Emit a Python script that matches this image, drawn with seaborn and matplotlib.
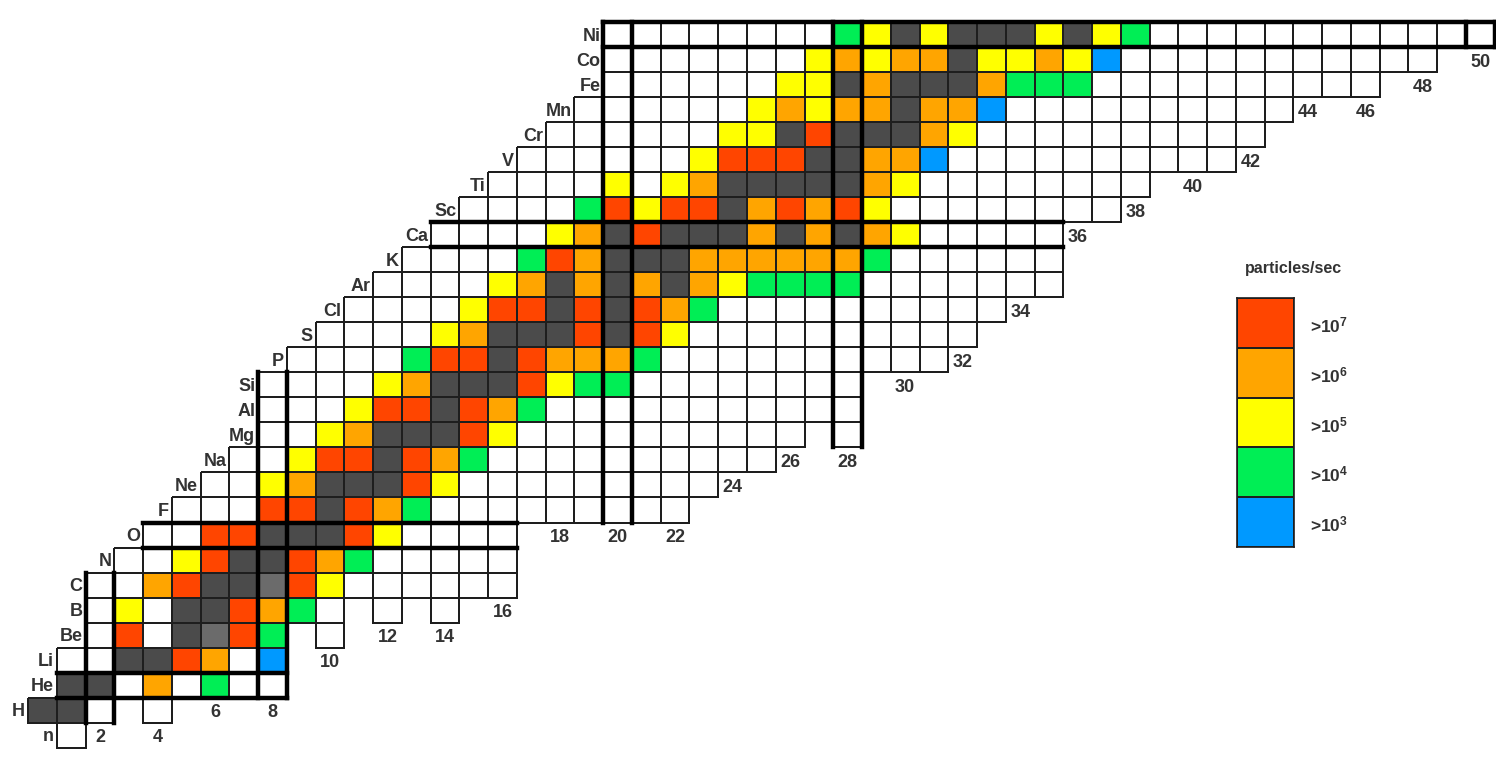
import numpy as np
import matplotlib.pyplot as plt
from matplotlib.colors import ListedColormap, to_rgba
import seaborn as sns

plt.rcParams['font.family'] = ['Liberation Sans', 'DejaVu Sans']
plt.rcParams['mathtext.fontset'] = 'custom'
plt.rcParams['mathtext.rm'] = 'Liberation Sans:bold'
plt.rcParams['mathtext.it'] = 'Liberation Sans:bold'
plt.rcParams['mathtext.default'] = 'rm'

# element symbol for each proton number Z = 0..28
elements = ["n", "H", "He", "Li", "Be", "B", "C", "N", "O", "F", "Ne", "Na",
            "Mg", "Al", "Si", "P", "S", "Cl", "Ar", "K", "Ca", "Sc", "Ti",
            "V", "Cr", "Mn", "Fe", "Co", "Ni"]

# neutron number of the first box in each row
row_first = [1, 0, 1, 1, 2, 2, 2, 3, 4, 5, 6, 7, 8, 8, 8, 9, 10, 11, 12, 13,
             14, 15, 16, 17, 18, 19, 20, 20, 20]

# one letter per box, left to right starting at row_first
# w below 1e3, b >1e3, g >1e4, y >1e5, o >1e6, r >1e7, s stable, l long lived, . no box
row_cells = [
    "w",                                   # n
    "ssw.w",                               # H
    "sswowgww",                            # He
    "wwssrowb",                            # Li
    "wrwslrg.w",                           # Be
    "wywssrogw.w.w",                       # B
    "wworsslrywwwwww",                     # C
    "wwyrssrogwwwww",                      # N
    "wwrrsssrywwww",                       # O
    "wwwrrsrogwwwwwwwww",                  # F
    "wwyosssrywwwwwwwww",                  # Ne
    "wwyrrsrogwwwwwwwwww",                 # Na
    "wwyosssrywwwwwwwwww.w",               # Mg
    "wwwyrrsrogwwwwwwwwwww",               # Al
    "wwwwyosssryggwwwwwwww",               # Si
    "wwwwgrrsrooogwwwwwwwwww",             # P
    "wwwwyosssrsrywwwwwwwwww",             # S
    "wwwwyrrsrsrogwwwwwwwwww",             # Cl
    "wwwwyosososoyggggwwwwwww",            # Ar
    "wwwwgrosssoooooogwwwwww",             # K
    "wwwwyosrsssososoywwwww",              # Ca
    "wwwwgryrrsororywwwwwwww",             # Sc
    "wwwwywyosssssoywwwwwwww",             # Ti
    "wwwwwwyrrrssoobwwwwwwwwww",           # V
    "wwwwwwyysrsssoywwwwwwwwww",           # Cr
    "wwwwwwyoyoosoobwwwwwwwwww",           # Mn
    "wwwwwwyysosssogggwwwwwwwwww",         # Fe
    "wwwwwwwyoyoosyyoybwwwwwwwwwww",       # Co
    "wwwwwwwwgysysssysygwwwwwwwwwwww",     # Ni
]

magic_numbers = [2, 8, 20, 28, 50]

legend_title = "particles/sec"
legend_codes = "roygb"
legend_labels = [">10$^{7}$", ">10$^{6}$", ">10$^{5}$", ">10$^{4}$", ">10$^{3}$"]

codes = "wbgyorsl"
palette = ["#ffffff", "#0099ff", "#00ee55", "#ffff00", "#ffa500", "#ff4500",
           "#4b4b4b", "#6b6b6b"]
cmap = ListedColormap(palette)
line_col = "#1e1e1e"
text_col = "#333333"

nz = len(elements)
ncol = 51
grid = np.full((nz, ncol), np.nan)
for z, (first, cells) in enumerate(zip(row_first, row_cells)):
    for i, c in enumerate(cells):
        if c != ".":
            grid[nz - 1 - z, first + i] = codes.index(c)


def rows_with(n):
    out = []
    for z in range(nz):
        k = n - row_first[z]
        if 0 <= k < len(row_cells[z]) and row_cells[z][k] != ".":
            out.append(z)
    return out


fig = plt.figure(figsize=(14.96, 7.72), dpi=100)
ax = fig.add_axes([0, 0, 1, 1])
sns.heatmap(grid, cmap=cmap, vmin=-0.5, vmax=7.5, cbar=False,
            linewidths=1.2, linecolor=line_col,
            xticklabels=False, yticklabels=False, ax=ax)

# hide the outlines of empty places
mesh = ax.collections[0]
edges = np.zeros((grid.size, 4))
edges[~np.isnan(grid).ravel()] = to_rgba(line_col)
mesh.set_edgecolor(edges)

ax.set_xlim(-28 / 28.76, (1496 - 28) / 28.76)
ax.set_ylim(29.98, -0.9)
ax.set_axis_off()

# thick frames on the magic rows and columns
for m in magic_numbers:
    if m < nz:
        r = nz - 1 - m
        x0 = row_first[m]
        x1 = row_first[m] + len(row_cells[m])
        for y in (r, r + 1):
            ax.plot([x0, x1], [y, y], color="black", lw=3.2,
                    solid_capstyle="projecting")
    zs = rows_with(m)
    if zs:
        r_top = nz - 1 - max(zs)
        r_bot = nz - min(zs)
        for x in (m, m + 1):
            ax.plot([x, x], [r_top, r_bot], color="black", lw=3.2,
                    solid_capstyle="projecting")

# element names on the left of each row
for z, sym in enumerate(elements):
    ax.text(row_first[z] - 0.1, nz - 1 - z + 0.56, sym, ha="right",
            va="center", fontsize=13, fontweight="bold", color=text_col)

# neutron numbers under the lowest box of each even column
for n in range(2, ncol, 2):
    zs = rows_with(n)
    r = nz - 1 - min(zs)
    ax.text(n + 0.5, r + 1.6, str(n), ha="center", va="center",
            fontsize=13, fontweight="bold", color=text_col)

# legend
lax = fig.add_axes([1237 / 1496, 1 - 547 / 772, 57 / 1496, 249 / 772])
lev = np.array([[codes.index(c)] for c in legend_codes], dtype=float)
sns.heatmap(lev, cmap=cmap, vmin=-0.5, vmax=7.5, cbar=False,
            linewidths=1.2, linecolor=line_col,
            xticklabels=False, yticklabels=False, ax=lax)
for s in lax.spines.values():
    s.set_visible(True)
    s.set_linewidth(1.2)
    s.set_color(line_col)
for i, lab in enumerate(legend_labels):
    lax.text(1.28, i + 0.55, lab, ha="left", va="center", fontsize=12.5,
             fontweight="bold", color=text_col, clip_on=False)
fig.text(1293 / 1496, 1 - 268 / 772, legend_title, ha="center", va="center",
         fontsize=11.5, fontweight="bold", color=text_col)

fig.savefig("out.png", dpi=100, facecolor="white")
